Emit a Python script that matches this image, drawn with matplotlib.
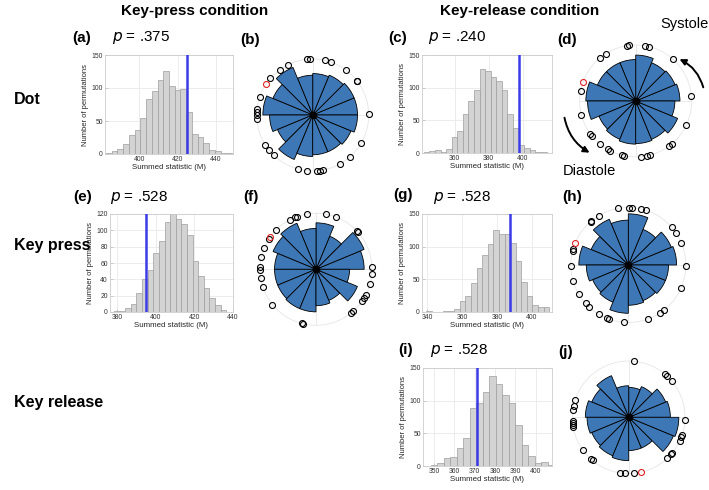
import numpy as np
import matplotlib
matplotlib.use('Agg')
import matplotlib.pyplot as plt
from matplotlib.patches import FancyArrowPatch

plt.rcParams['font.family'] = ['Liberation Sans', 'DejaVu Sans']

W, H = 709, 490

# ---------------- histogram data ----------------
a_start, a_width = 384.0, 3.0
a_counts = [1, 4, 7, 15, 29, 37, 55, 83, 95, 112, 125, 103, 97, 99, 63, 31, 26, 17, 6, 4, 2, 1]
a_obs = 425.0
c_start, c_width = 343.7, 3.26
c_counts = [1, 3, 4, 2, 6, 25, 33, 59, 79, 96, 128, 126, 117, 110, 96, 59, 38, 12, 8, 5, 1, 1]
c_obs = 397.5
e_start, e_width = 380.0, 2.9
e_counts = [1, 1, 5, 10, 23, 41, 52, 72, 87, 110, 120, 114, 108, 94, 63, 44, 30, 17, 8, 3]
e_obs = 395.3
g_start, g_width = 341.1, 3.2
g_counts = [1, 0, 0, 1, 2, 4, 17, 24, 45, 68, 87, 104, 126, 120, 120, 106, 78, 46, 25, 11, 8, 8]
g_obs = 387.6
i_start, i_width = 350.0, 3.2
i_counts = [2, 5, 13, 14, 27, 43, 89, 97, 113, 138, 126, 109, 96, 63, 32, 16, 4, 6, 2]
i_obs = 371.0

# ---------------- polar data (16 bins from 0 deg, counter-clockwise) ----------------
b_radii = [0.80, 0.80, 0.77, 0.74, 0.71, 0.92, 0.77, 0.89, 0.77, 0.68, 0.86, 0.74, 0.71, 0.71, 0.74, 0.80]
b_pts = [96, 93, 77, 71, 53, 38, 37, 1, -30, -48, -61, -79, -83, -86, 264, 255,
         212, 219, 226, 174, 177, 180, 184, 161, 139, 126, 116]
b_red = 146
d_radii = [0.79, 0.76, 0.74, 0.82, 0.74, 0.74, 0.74, 0.89, 0.86, 0.71, 0.74, 0.77, 0.76, 0.74, 0.81, 0.70]
d_pts = [97, 99, 80, 76, 122, 130, 48, 170, 5, 194, -25, 216, 219, 230, 240, 243,
         256, 258, -85, -78, -75, -53, -50]
d_red = 160
f_radii = [0.86, 0.93, 0.64, 0.83, 0.73, 0.89, 0.83, 0.74, 0.74, 0.74, 0.76, 0.76, 0.65, 0.60, 0.80, 0.60]
f_pts = [118, 112, 110, 99, 80, 69, 43, 42, 2, -5, -15, -27, -31, -35, -51, -48,
         257, 255, 219, 198, 189, 181, 178, 167, 158, 147, 135]
f_red = 145
h_radii = [0.84, 0.81, 0.67, 0.89, 0.78, 0.86, 0.70, 0.86, 0.73, 0.67, 0.70, 0.84, 0.70, 0.67, 0.70, 0.70]
h_pts = [100, 89, 86, 77, 72, 121, 131, 130, 41, 34, 23, 164, 166, 181, -1, 196,
         210, 222, 227, 239, 248, 250, 266, -70, -57, -52, -24]
h_red = 157
j_radii = [0.74, 0.71, 0.59, 0.53, 0.56, 0.80, 0.71, 0.77, 0.74, 0.71, 0.74, 0.77, 0.59, 0.59, 0.86, 0.89]
j_pts = [85, 50, 47, 40, -3, -18, -21, -25, -39, -41, -47, -85, 266, 261, 228, 230,
         216, 184, 186, 188, 190, 173, 168, 162]
j_red = -77

fig = plt.figure(figsize=(W / 100, H / 100), dpi=100)


def rect(x0, y0, x1, y1):
    return [x0 / W, 1 - y1 / H, (x1 - x0) / W, (y1 - y0) / H]


def P(x, y):
    return (x / W, 1 - y / H)


def hist_panel(box, start, width, counts, obs, xlim, xticks, ylim, yticks):
    ax = fig.add_axes(rect(*box))
    centers = start + width * np.arange(len(counts))
    ax.bar(centers, counts, width=width, color='#d3d3d3', edgecolor='#9e9e9e',
           linewidth=0.5, zorder=2)
    ax.axvline(obs, color='#3b3be8', lw=1.8, zorder=3)
    ax.set_xlim(xlim)
    ax.set_ylim(ylim)
    ax.set_xticks(xticks)
    ax.set_yticks(yticks)
    ax.grid(True, color='#e9e9e9', lw=0.6)
    ax.set_axisbelow(True)
    for s in ax.spines.values():
        s.set_color('#cccccc')
        s.set_linewidth(0.6)
    ax.tick_params(direction='in', length=2, width=0.5, color='#bbbbbb',
                   labelsize=4.9, labelcolor='#333333', pad=1.5)
    ax.set_xlabel('Summed statistic (M)', fontsize=5.7, labelpad=1, color='#262626')
    ax.set_ylabel('Number of permutations', fontsize=5.5, labelpad=2, color='#262626')
    return ax


def polar_panel(cx, cy, R, radii, pts, red):
    ax = fig.add_axes(rect(cx - R, cy - R, cx + R, cy + R), projection='polar')
    n = len(radii)
    theta = np.deg2rad(np.arange(n) * 360.0 / n + 180.0 / n)
    ax.bar(theta, radii, width=2 * np.pi / n, color='#3e77b5', edgecolor='black',
           linewidth=0.6, zorder=2)
    ax.set_ylim(0, 1)
    ax.set_xticks(np.deg2rad([0, 90, 180, 270]))
    ax.set_xticklabels([])
    ax.set_yticks([])
    ax.grid(True, color='#e6e6e6', lw=0.6)
    ax.set_axisbelow(True)
    ax.spines['polar'].set_color('#e6e6e6')
    ax.spines['polar'].set_linewidth(0.6)
    ax.plot(np.deg2rad(pts), np.ones(len(pts)), 'o', mfc='none', mec='black',
            ms=4.3, mew=0.8, clip_on=False, zorder=4)
    ax.plot([np.deg2rad(red)], [1.0], 'o', mfc='none', mec='#e02424',
            ms=4.3, mew=0.8, clip_on=False, zorder=5)
    ax.plot([0], [0], 'o', color='black', ms=4.5, zorder=6)
    return ax


hist_panel((105, 55, 233, 154), a_start, a_width, a_counts, a_obs,
           (382, 449), [400, 420, 440], (0, 150), [0, 50, 100, 150])
hist_panel((422, 55, 552, 153), c_start, c_width, c_counts, c_obs,
           (341, 417), [360, 380, 400], (0, 150), [0, 50, 100, 150])
hist_panel((110, 214, 233, 312), e_start, e_width, e_counts, e_obs,
           (376.5, 440), [380, 400, 420, 440], (0, 120), [0, 20, 40, 60, 80, 100, 120])
hist_panel((422, 214, 552, 312), g_start, g_width, g_counts, g_obs,
           (337, 411.5), [340, 360, 380, 400], (0, 150), [0, 50, 100, 150])
hist_panel((423, 368, 552, 466), i_start, i_width, i_counts, i_obs,
           (344.5, 408), [350, 360, 370, 380, 390, 400], (0, 150), [0, 50, 100, 150])

polar_panel(312.7, 115, 56, b_radii, b_pts, b_red)
polar_panel(635.7, 101, 56, d_radii, d_pts, d_red)
polar_panel(316, 269.3, 56, f_radii, f_pts, f_red)
polar_panel(628.3, 265, 57.5, h_radii, h_pts, h_red)
polar_panel(628.7, 417.3, 56.3, j_radii, j_pts, j_red)

# headers
fig.text(*P(195, 11), 'Key-press condition', fontsize=11, fontweight='bold',
         ha='center', va='center')
fig.text(*P(520, 11), 'Key-release condition', fontsize=11, fontweight='bold',
         ha='center', va='center')

# row labels
for lab, y in [('Dot', 100), ('Key press', 245), ('Key release', 402)]:
    fig.text(*P(14, y), lab, fontsize=11.5, fontweight='bold', ha='left', va='center')

# panel letters and p values
letters = [('(a)', 72, 38), ('(b)', 240, 40), ('(c)', 388, 38), ('(d)', 557, 40),
           ('(e)', 73, 197), ('(f)', 243, 197), ('(g)', 393, 195), ('(h)', 562, 197),
           ('(i)', 398, 350), ('(j)', 558, 352)]
for lab, x, y in letters:
    fig.text(*P(x, y), lab, fontsize=11, fontweight='bold', ha='left', va='center')

pvals = [('.375', 112, 38), ('.240', 428, 38), ('.528', 110, 197),
         ('.528', 433, 197), ('.528', 430, 350)]
for val, x, y in pvals:
    fig.text(*P(x, y), r'$\it{p}$ = ' + val, fontsize=11, ha='left', va='center')

# systole / diastole
fig.text(*P(684, 24), 'Systole', fontsize=10.5, ha='center', va='center')
fig.text(*P(589, 171), 'Diastole', fontsize=10.5, ha='center', va='center')
for s, e in [((704, 90), (677, 58)), ((564, 115), (592, 154))]:
    arr = FancyArrowPatch(P(*s), P(*e), connectionstyle='arc3,rad=0.25',
                          arrowstyle='-|>', mutation_scale=9, lw=1.4,
                          color='black', transform=fig.transFigure)
    fig.patches.append(arr)

fig.savefig('out.png', dpi=100)
